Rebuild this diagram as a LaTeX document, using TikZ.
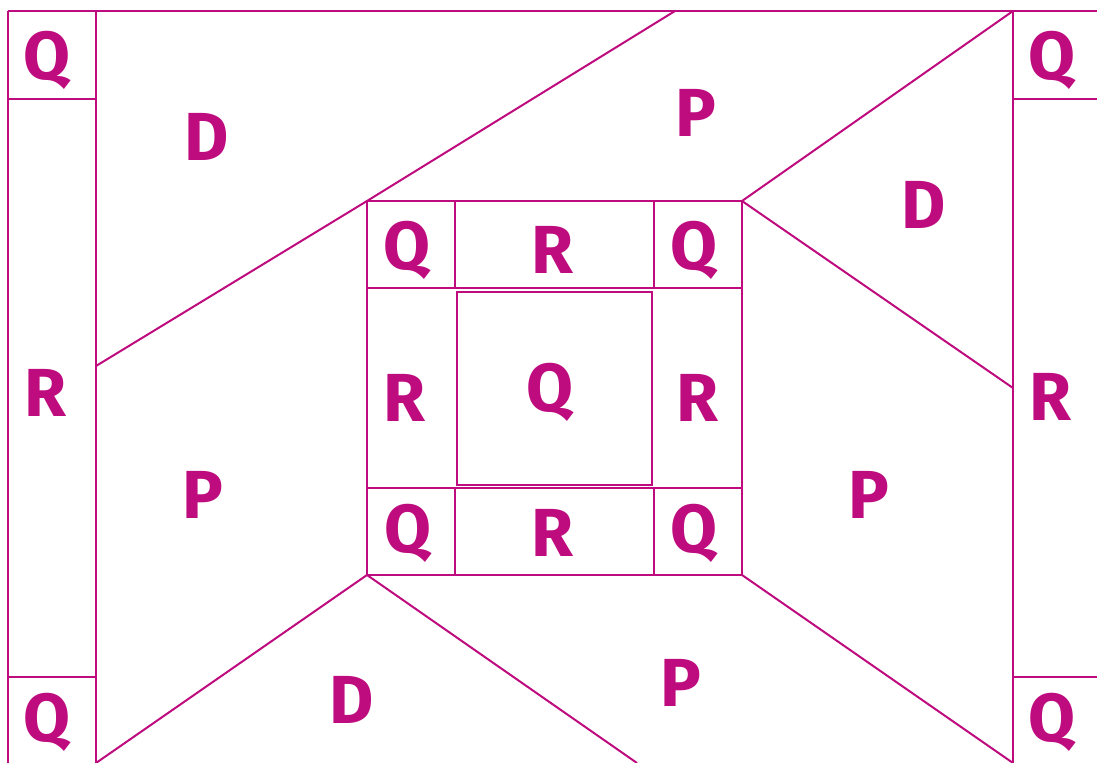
\documentclass[tikz,border=0pt]{standalone}
\usepackage{fontspec}
\setmainfont{Fira Sans}
\definecolor{plum}{RGB}{190,11,126}

\begin{document}
\begin{tikzpicture}[x=0.5pt,y=-0.5pt,line width=1pt,
  lbl/.style={font=\fontsize{34}{34}\selectfont\bfseries,text=plum}]
\useasboundingbox (0,0) rectangle (1097,763);
\clip (0,0) rectangle (1097,763);
% centre square
\coordinate (tl) at (367,201);
\coordinate (tr) at (742,201);
\coordinate (bl) at (367,575);
\coordinate (br) at (742,575);
\begin{scope}[draw=plum]
% outer frame
\draw (8,11) -- (1097,11);
\draw (8,11) -- (8,763);
\draw (96,11) -- (96,763);
\draw (1013,11) -- (1013,763);
\draw (8,99) -- (96,99);
\draw (8,677) -- (96,677);
\draw (1013,99) -- (1097,99);
\draw (1013,677) -- (1097,677);
% diagonals
\draw (96,366) -- (tl) -- (675,11);
\draw (tr) -- (1013,11);
\draw (tr) -- (1013,388);
\draw (bl) -- (96,763);
\draw (bl) -- (637,763);
\draw (br) -- (1013,763);
% centre blocks
\draw (tl) rectangle (br);
\draw (367,288) -- (742,288);
\draw (367,488) -- (742,488);
\draw (455,201) -- (455,288);
\draw (654,201) -- (654,288);
\draw (455,488) -- (455,575);
\draw (654,488) -- (654,575);
\draw (457,292) rectangle (652,485);
\end{scope}
% labels
\node[lbl] (q1) at (47,60) {Q};
\node[lbl] (q2) at (1052,60) {Q};
\node[lbl] (q3) at (47,722) {Q};
\node[lbl] (q4) at (1052,722) {Q};
\node[lbl] (r1) at (45,393) {R};
\node[lbl] (r2) at (1050,397) {R};
\node[lbl] (d1) at (207,137) {D};
\node[lbl] (d2) at (924,205) {D};
\node[lbl] (d3) at (352,700) {D};
\node[lbl] (p1) at (696,113) {P};
\node[lbl] (p2) at (203,495) {P};
\node[lbl] (p3) at (869,495) {P};
\node[lbl] (p4) at (681,683) {P};
\node[lbl] (cq1) at (407,250) {Q};
\node[lbl] (cr1) at (552,250) {R};
\node[lbl] (cq2) at (694,250) {Q};
\node[lbl] (cr2) at (404,398) {R};
\node[lbl] (cq) at (550,392) {Q};
\node[lbl] (cr3) at (697,398) {R};
\node[lbl] (cq3) at (408,533) {Q};
\node[lbl] (cr4) at (552,533) {R};
\node[lbl] (cq4) at (694,533) {Q};
\end{tikzpicture}
\end{document}
